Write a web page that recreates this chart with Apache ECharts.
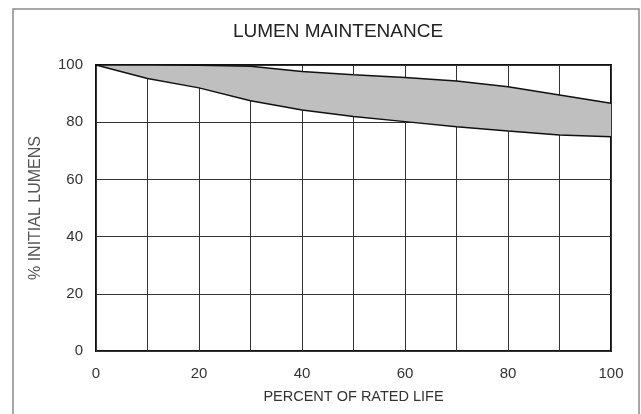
<!DOCTYPE html>
<html>
<head>
<meta charset="utf-8">
<script src="https://cdn.jsdelivr.net/npm/echarts@6/dist/echarts.min.js"></script>
<style>
  html, body { margin: 0; padding: 0; background: #fff; }
  #chart { width: 641px; height: 414px; }
</style>
</head>
<body>
<div id="chart"></div>
<script>
// percent of rated life
const lifePct = ['0', '10', '20', '30', '40', '50', '60', '70', '80', '90', '100']
// band limits, % initial lumens
const upperLumens = [100, 100, 99.9, 99.6, 97.7, 96.6, 95.6, 94.4, 92.4, 89.5, 86.6]
const lowerLumens = [100, 95.3, 92, 87.5, 84.3, 82, 80.2, 78.4, 76.9, 75.5, 74.9]

const bandWidth = upperLumens.map((v, i) => +(v - lowerLumens[i]).toFixed(2))

const font = 'Liberation Sans, Arial, sans-serif'
const chart = echarts.init(document.getElementById('chart'))

chart.setOption({
  animation: false,
  title: {
    text: 'LUMEN MAINTENANCE',
    left: 228,
    top: 17,
    textStyle: { fontFamily: font, fontSize: 19, fontWeight: 'normal', color: '#222' }
  },
  graphic: [{
    type: 'rect',
    shape: { x: 13, y: 9, width: 626, height: 430 },
    style: { fill: 'none', stroke: '#8a8a8a', lineWidth: 1.5 },
    silent: true
  }],
  grid: {
    left: 96, right: 30, top: 65, bottom: 63,
    show: true,
    borderColor: '#111',
    borderWidth: 2,
    backgroundColor: 'transparent'
  },
  xAxis: {
    type: 'category',
    data: lifePct,
    boundaryGap: false,
    name: 'PERCENT OF RATED LIFE',
    nameLocation: 'middle',
    nameGap: 38,
    nameTextStyle: { fontFamily: font, fontSize: 14.5, color: '#333' },
    axisLine: { show: false },
    axisTick: { show: false },
    axisLabel: { interval: 1, margin: 15, fontFamily: font, fontSize: 15, color: '#333' },
    splitLine: { show: true, interval: 0, lineStyle: { color: '#333', width: 1 } }
  },
  yAxis: {
    type: 'value',
    min: 0,
    max: 100,
    interval: 20,
    name: '% INITIAL LUMENS',
    nameLocation: 'middle',
    nameGap: 52,
    nameTextStyle: { fontFamily: font, fontSize: 16, color: '#555' },
    axisLine: { show: false },
    axisTick: { show: false },
    axisLabel: { margin: 13, fontFamily: font, fontSize: 15, color: '#333' },
    splitLine: { show: true, lineStyle: { color: '#333', width: 1 } }
  },
  series: [
    {
      name: 'lower',
      type: 'line',
      stack: 'band',
      data: lowerLumens,
      symbol: 'none',
      z: 3,
      lineStyle: { color: '#111', width: 1.5 }
    },
    {
      name: 'band',
      type: 'line',
      stack: 'band',
      data: bandWidth,
      symbol: 'none',
      lineStyle: { color: '#111', width: 1.5 },
      areaStyle: { color: '#bfbfbf', opacity: 1 }
    }
  ]
})
</script>
</body>
</html>
